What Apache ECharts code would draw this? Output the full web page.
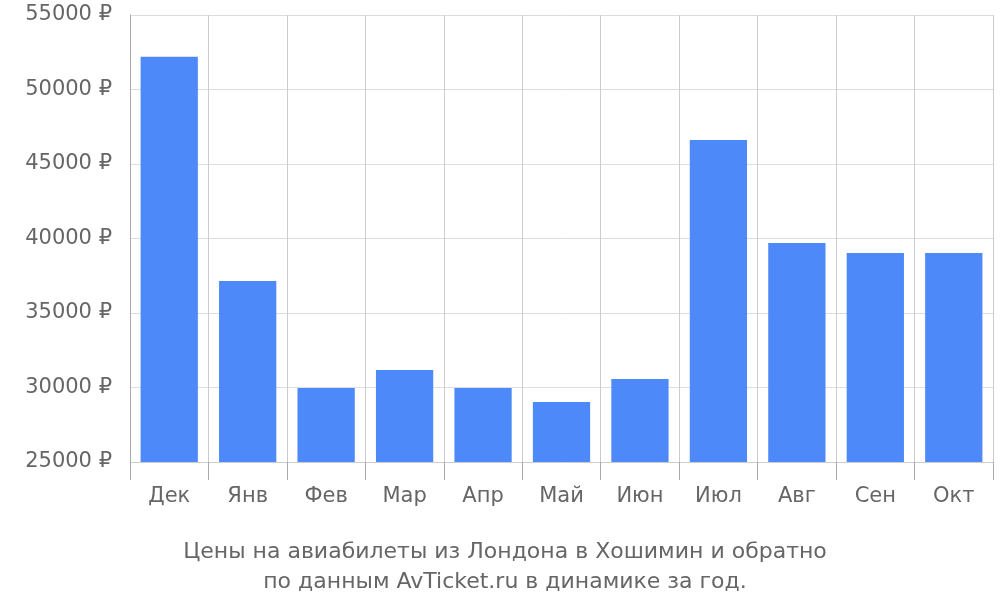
<!DOCTYPE html>
<html><head><meta charset="utf-8">
<script src="https://cdn.jsdelivr.net/npm/echarts@6/dist/echarts.min.js"></script>
<style>html,body{margin:0;padding:0;background:#fff}#c{width:1000px;height:600px}</style>
</head><body><div id="c"></div>
<script>
const categories = ['Дек','Янв','Фев','Мар','Апр','Май','Июн','Июл','Авг','Сен','Окт'];
const prices = [52200, 37150, 29970, 31170, 29970, 29030, 30570, 46610, 39700, 39030, 39030];
const yTicks = {min: 25000, max: 55000, interval: 5000};
const titleText = 'Цены на авиабилеты из Лондона в Хошимин и обратно\nпо данным AvTicket.ru в динамике за год.';

const chart = echarts.init(document.getElementById('c'));
chart.setOption({
  animation: false,
  textStyle: {fontFamily: 'DejaVu Sans'},
  title: {text: titleText, left: 500, textAlign: 'center', top: 532,
    textStyle: {fontSize: 22, fontWeight: 'normal', color: '#666', lineHeight: 30, fontFamily: 'DejaVu Sans'}},
  grid: {left: 130, right: 7, top: 15, bottom: 138},
  xAxis: {type: 'category', data: categories,
    axisLine: {show: true, lineStyle: {color: '#ccc'}},
    axisTick: {show: true, length: 18, lineStyle: {color: '#aaa'}},
    splitLine: {show: true, lineStyle: {color: '#ccc'}},
    axisLabel: {fontSize: 21, color: '#666', margin: 24, fontFamily: 'DejaVu Sans'}},
  yAxis: {type: 'value', min: yTicks.min, max: yTicks.max, interval: yTicks.interval,
    axisLine: {show: true, lineStyle: {color: '#aaa'}},
    axisTick: {show: false},
    splitLine: {lineStyle: {color: '#ddd'}},
    axisLabel: {fontSize: 21, color: '#666', margin: 18, formatter: v => v + ' ₽', fontFamily: 'DejaVu Sans'}},
  series: [{type: 'bar', data: prices, barCategoryGap: '27%', itemStyle: {color: '#4d89f9'}}]
});
</script></body></html>
